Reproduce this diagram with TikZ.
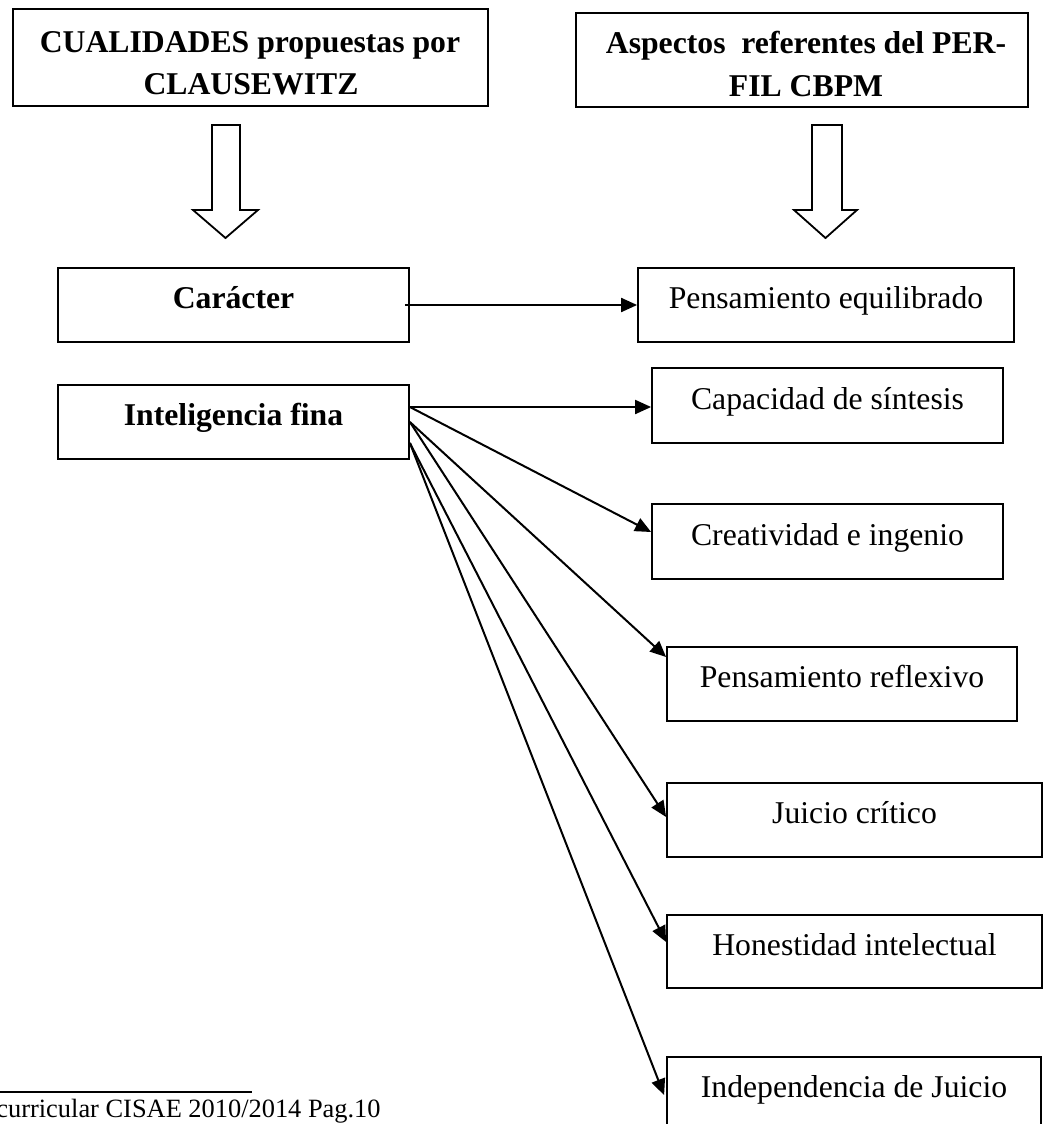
\documentclass[tikz,border=0pt]{standalone}
\usepackage{fontspec}
\setmainfont{Liberation Serif}
\usetikzlibrary{arrows.meta,calc}
\begin{document}
\begin{tikzpicture}[x=0.5pt,y=-0.5pt,
  box/.style={draw,line width=0.9pt,inner sep=0pt,text height=11pt,text depth=7.5pt,font=\fontsize{15.85}{19}\selectfont},
  tbox/.style={draw,line width=0.9pt,inner sep=0pt},
  ttext/.style={anchor=base,inner sep=0pt,font=\fontsize{15.85}{19}\selectfont\bfseries},
  conn/.style={line width=1pt,-{Triangle[length=8pt,width=7pt]}},
  hollow/.style={draw,line width=0.9pt,fill=white,line join=miter}]
\clip (0,0) rectangle (1047,1124);
\fill[white] (0,0) rectangle (1047,1124);
% title boxes
\node[tbox,minimum width=237.5pt,minimum height=48.5pt] (tl) at (250.5,57.5) {};
\node[ttext] (tl1) at (250,52) {CUALIDADES propuestas por};
\node[ttext] (tl2) at (251,94) {CLAUSEWITZ};
\node[tbox,minimum width=226pt,minimum height=47pt] (tr) at (802,60) {};
\node[ttext] (tr1) at (806,54) {Aspectos\ \ referentes del PER-};
\node[ttext] (tr2) at (806,96) {FIL CBPM};
% hollow block arrows
\draw[hollow] (212,125) -- (240,125) -- (240,210) -- (258,210) -- (225.5,238) -- (193,210) -- (212,210) -- cycle;
\draw[hollow] (812,125) -- (842,125) -- (842,210) -- (857,210) -- (825.5,238) -- (794,210) -- (812,210) -- cycle;
% left boxes
\node[box,minimum width=175.5pt,minimum height=37pt] (car) at (233.5,305) {\textbf{Carácter}};
\node[box,minimum width=175.5pt,minimum height=37pt] (intel) at (233.5,422) {\textbf{Inteligencia fina}};
% right boxes
\node[box,minimum width=188pt,minimum height=37pt] (peq) at (826,305) {Pensamiento equilibrado};
\node[box,minimum width=175.5pt,minimum height=37.5pt] (cap) at (827.5,405.5) {Capacidad de síntesis};
\node[box,minimum width=175.5pt,minimum height=37.5pt] (cre) at (827.5,541.5) {Creatividad e ingenio};
\node[box,minimum width=175pt,minimum height=37pt] (ref) at (842,684) {Pensamiento reflexivo};
\node[box,minimum width=187.5pt,minimum height=37pt] (jui) at (854.5,820) {Juicio crítico};
\node[box,minimum width=187.5pt,minimum height=36.5pt] (hon) at (854.5,951.5) {Honestidad intelectual};
\node[box,minimum width=187pt,minimum height=37pt] (ind) at (854,1094) {Independencia de Juicio};
% connectors
\coordinate (s1) at ($(intel.east)+(0,-15)$);
\coordinate (s2) at (intel.east);
\coordinate (s3) at ($(intel.east)+(0,21)$);
\draw[conn] ($(car.east)+(-5,0)$) -- (peq.west);
\draw[conn] (s1) -- (s1 -| cap.west);
\draw[conn] (s1) -- ($(cre.west)+(0,-9.5)$);
\draw[conn] (s2) -- ($(ref.west)+(0,-27)$);
\draw[conn] (s2) -- ($(jui.west)+(0,-3)$);
\draw[conn] (s3) -- ($(hon.west)+(0,-9.5)$);
\draw[conn] (s3) -- ($(ind.west)+(-2,1)$);
% footnote
\coordinate (fa) at (0,1092);
\coordinate (fb) at (252,1092);
\draw[line width=0.75pt] (fa) -- (fb);
\node[anchor=base west,inner sep=0pt,font=\fontsize{13.2}{15}\selectfont] (fn) at (-4,1117) {curricular CISAE 2010/2014 Pag.10};
\end{tikzpicture}
\end{document}
